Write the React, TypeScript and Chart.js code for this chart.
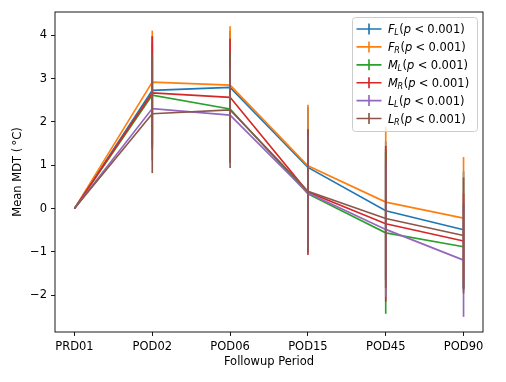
import React, { useEffect, useRef } from "react";
import { Chart, registerables } from "chart.js";

Chart.register(...registerables);

const categories = ["PRD01", "POD02", "POD06", "POD15", "POD45", "POD90"];

const fLMean = [0, 2.73, 2.8, 0.95, -0.05, -0.49];
const fRMean = [0, 2.92, 2.85, 0.99, 0.15, -0.22];
const mLMean = [0, 2.62, 2.3, 0.34, -0.56, -0.88];
const mRMean = [0, 2.67, 2.57, 0.38, -0.35, -0.75];
const lLMean = [0, 2.31, 2.16, 0.36, -0.48, -1.19];
const lRMean = [0, 2.19, 2.28, 0.4, -0.23, -0.62];

const fLErr = [0, 1.25, 1.3, 1.4, 1.6, 1.35];
const fRErr = [0, 1.19, 1.36, 1.41, 1.75, 1.41];
const mLErr = [0, 1.2, 1.25, 1.3, 1.87, 1.0];
const mRErr = [0, 1.31, 1.35, 1.45, 1.8, 1.1];
const lLErr = [0, 1.2, 1.1, 1.35, 1.56, 1.31];
const lRErr = [0, 1.37, 1.34, 1.42, 1.6, 1.34];

const seriesLetters = ["F", "F", "M", "M", "L", "L"];
const seriesSides = ["L", "R", "L", "R", "L", "R"];
const pText = "0.001";

const yTicks = [-2, -1, 0, 1, 2, 3, 4];

const colors = ["#1f77b4", "#ff7f0e", "#2ca02c", "#d62728", "#9467bd", "#8c564b"];
const means = [fLMean, fRMean, mLMean, mRMean, lLMean, lRMean];
const errs = [fLErr, fRErr, mLErr, mRErr, lLErr, lRErr];

const FONT = '"DejaVu Sans", sans-serif';
const FS = 11.5;
const LW = 1.65;

const errorBarPlugin = {
  id: "errorBars",
  afterDatasetDraw(chart: any, args: any) {
    const i = args.index;
    const ctx = chart.ctx;
    const xs = chart.scales.x;
    const ys = chart.scales.y;
    ctx.save();
    ctx.strokeStyle = colors[i];
    ctx.lineWidth = LW;
    means[i].forEach((v, k) => {
      const e = errs[i][k];
      if (!e) return;
      const x = xs.getPixelForValue(k);
      ctx.beginPath();
      ctx.moveTo(x, ys.getPixelForValue(v + e));
      ctx.lineTo(x, ys.getPixelForValue(v - e));
      ctx.stroke();
    });
    ctx.restore();
  },
};

const framePlugin = {
  id: "frame",
  afterDatasetsDraw(chart: any) {
    const { ctx, chartArea: a } = chart;
    ctx.save();
    ctx.strokeStyle = "#000";
    ctx.lineWidth = 0.9;
    ctx.strokeRect(a.left, a.top, a.right - a.left, a.bottom - a.top);
    ctx.restore();
  },
};

function roundRect(ctx: CanvasRenderingContext2D, x: number, y: number, w: number, h: number, r: number) {
  ctx.beginPath();
  ctx.moveTo(x + r, y);
  ctx.lineTo(x + w - r, y);
  ctx.quadraticCurveTo(x + w, y, x + w, y + r);
  ctx.lineTo(x + w, y + h - r);
  ctx.quadraticCurveTo(x + w, y + h, x + w - r, y + h);
  ctx.lineTo(x + r, y + h);
  ctx.quadraticCurveTo(x, y + h, x, y + h - r);
  ctx.lineTo(x, y + r);
  ctx.quadraticCurveTo(x, y, x + r, y);
  ctx.closePath();
}

const legendPlugin = {
  id: "mplLegend",
  afterDraw(chart: any) {
    const { ctx, chartArea: a } = chart;
    const boxW = 125;
    const boxH = 114;
    const bx = a.right - 5.5 - boxW;
    const by = a.top + 5.5;
    ctx.save();
    roundRect(ctx, bx, by, boxW, boxH, 3);
    ctx.fillStyle = "rgba(255,255,255,0.8)";
    ctx.fill();
    ctx.strokeStyle = "#cccccc";
    ctx.lineWidth = 1;
    ctx.stroke();
    const rowH = 17.9;
    const fs = FS;
    seriesLetters.forEach((letter, i) => {
      const cy = by + 11.5 + i * rowH;
      const hx0 = bx + 4;
      const hx1 = bx + 29;
      ctx.strokeStyle = colors[i];
      ctx.lineWidth = LW;
      ctx.beginPath();
      ctx.moveTo(hx0, cy);
      ctx.lineTo(hx1, cy);
      ctx.moveTo((hx0 + hx1) / 2, cy - 5.5);
      ctx.lineTo((hx0 + hx1) / 2, cy + 5.5);
      ctx.stroke();
      let x = bx + 35.5;
      const base = cy + 4;
      ctx.fillStyle = "#000";
      ctx.textBaseline = "alphabetic";
      ctx.textAlign = "left";
      const put = (t: string, font: string, dy = 0) => {
        ctx.font = font;
        ctx.fillText(t, x, base + dy);
        x += ctx.measureText(t).width;
      };
      put(letter, `italic ${fs}px ${FONT}`);
      x -= 0.4;
      put(seriesSides[i], `italic ${fs * 0.7}px ${FONT}`, 2.4);
      x += 0.6;
      put("(", `${fs}px ${FONT}`);
      put("p", `italic ${fs}px ${FONT}`);
      x += 3.3;
      put("<", `${fs}px ${FONT}`);
      x += 3.3;
      put(pText + ")", `${fs}px ${FONT}`);
    });
    ctx.restore();
  },
};

export default function App() {
  const ref = useRef<HTMLCanvasElement | null>(null);
  useEffect(() => {
    if (!ref.current) return;
    const datasets = means.map((m, i) => ({
      label: seriesLetters[i] + seriesSides[i],
      data: m.map((v, k) => ({ x: k, y: v })),
      borderColor: colors[i],
      backgroundColor: colors[i],
      borderWidth: LW,
      pointRadius: 0,
      tension: 0,
      order: means.length - 1 - i,
    }));
    const chart = new Chart(ref.current, {
      type: "line",
      data: { datasets },
      plugins: [errorBarPlugin, framePlugin, legendPlugin],
      options: {
        animation: false,
        responsive: false,
        layout: { padding: { left: 0, right: 23, top: 12, bottom: 0 } },
        plugins: { legend: { display: false }, tooltip: { enabled: false } },
        scales: {
          x: {
            type: "linear",
            min: -0.25,
            max: 5.25,
            afterFit: (s: any) => {
              s.height = 50;
            },
            border: { display: false },
            grid: { drawOnChartArea: false, drawTicks: true, tickLength: 4, tickColor: "#000", lineWidth: 0.9 },
            ticks: {
              stepSize: 1,
              includeBounds: false,
              padding: 4,
              maxRotation: 0,
              autoSkip: false,
              color: "#000",
              font: { family: FONT, size: FS },
              callback: (v: any) => categories[v] ?? "",
            },
            title: {
              display: true,
              text: "Followup Period",
              color: "#000",
              font: { family: FONT, size: FS },
              padding: { top: 0, bottom: 13 },
            },
          },
          y: {
            type: "linear",
            min: -2.85,
            max: 4.54,
            afterFit: (s: any) => {
              s.width = 55;
            },
            afterBuildTicks: (s: any) => {
              s.ticks = yTicks.map((v) => ({ value: v }));
            },
            border: { display: false },
            grid: { drawOnChartArea: false, drawTicks: true, tickLength: 4, tickColor: "#000", lineWidth: 0.9 },
            ticks: {
              padding: 4,
              color: "#000",
              font: { family: FONT, size: FS },
              callback: (v: any) => (v < 0 ? "\u2212" + Math.abs(v) : String(v)),
            },
            title: {
              display: true,
              text: "Mean MDT (\u2009°C)",
              color: "#000",
              font: { family: FONT, size: FS },
              padding: { top: 11, bottom: 0 },
            },
          },
        },
      },
    });
    return () => chart.destroy();
  }, []);
  return (
    <div style={{ position: "absolute", left: 0, top: 0, width: 506, height: 382, background: "#fff" }}>
      <canvas ref={ref} width={506} height={382} style={{ display: "block" }} />
    </div>
  );
}
